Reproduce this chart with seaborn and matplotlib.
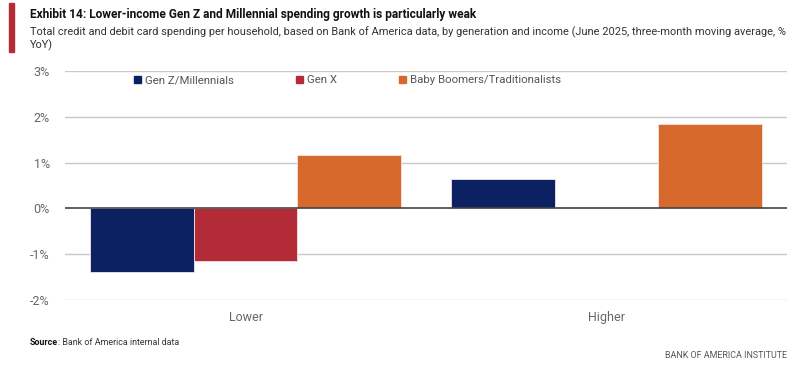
import matplotlib.pyplot as plt
import matplotlib.patches as mpatches
import seaborn as sns
import pandas as pd

income = ["Lower", "Higher"]
generations = ["Gen Z/Millennials", "Gen X", "Baby Boomers/Traditionalists"]
genz = [-1.39, 0.65]
genx = [-1.16, 0.02]
boomers = [1.16, 1.84]
yticks = [-2, -1, 0, 1, 2, 3]
colors = ["#0B2161", "#B42B38", "#D6692B"]

df = pd.DataFrame({
    "income": income * 3,
    "generation": [g for g in generations for _ in income],
    "value": genz + genx + boomers,
})

sns.set_style("white")
plt.rcParams["font.family"] = ["Roboto", "DejaVu Sans"]

fig = plt.figure(figsize=(8.08, 3.74), dpi=100)
ax = fig.add_axes([0.0804, 0.198, 0.894, 0.612])

sns.barplot(data=df, x="income", y="value", hue="generation", order=income,
            hue_order=generations, palette=colors, saturation=1, width=0.86,
            ax=ax, edgecolor="#F4E4E4", linewidth=0.6, legend=False,
            errorbar=None)

ax.set_ylim(-2, 3)
ax.set_xlim(-0.5, 1.5)
ax.set_yticks(yticks)
ax.set_yticklabels([f"{t}%" for t in yticks], color="#666666", fontsize=9)
ax.tick_params(axis="x", colors="#666666", labelsize=9, length=0, pad=8)
ax.tick_params(axis="y", length=0, pad=11)
ax.set_xlabel("")
ax.set_ylabel("")
for s in ax.spines.values():
    s.set_visible(False)
for t in yticks:
    if t != 0:
        ax.axhline(t, color="#C8C8C8", lw=1, zorder=0)
ax.axhline(0, color="#444444", lw=1.2, zorder=3)

handles = [mpatches.Patch(color=c, label=g) for c, g in zip(colors, generations)]
leg = ax.legend(handles=handles, loc="center left", bbox_to_anchor=(0.0956, 0.96),
                ncol=3, frameon=False, fontsize=8.2, handlelength=0.6,
                handleheight=0.6, handletextpad=0.4, columnspacing=5.4,
                borderpad=0, borderaxespad=0)
for txt in leg.get_texts():
    txt.set_color("#555555")

fig.patches.append(mpatches.Rectangle((0.0115, 0.861), 0.0058, 0.131,
                                      transform=fig.transFigure,
                                      color="#B42B38"))
fig.text(0.037, 0.962, "Exhibit 14: Lower-income Gen Z and Millennial spending growth is particularly weak",
         fontsize=8.6, fontweight="bold", color="#111111", va="center")
fig.text(0.037, 0.913, "Total credit and debit card spending per household, based on Bank of America data, by generation and income (June 2025, three-month moving average, %",
         fontsize=7.9, color="#333333", va="center")
fig.text(0.037, 0.880, "YoY)", fontsize=7.9, color="#333333", va="center")

src = fig.text(0.037, 0.083, "Source", fontsize=6.4, fontweight="bold",
               color="#111111", va="center")
fig.canvas.draw()
bb = src.get_window_extent().transformed(fig.transFigure.inverted())
fig.text(bb.x1, 0.083, ": Bank of America internal data", fontsize=6.4,
         color="#333333", va="center")
fig.text(0.974, 0.05, "BANK OF AMERICA INSTITUTE", fontsize=6.4, color="#555555",
         va="center", ha="right")

fig.savefig("out.png", dpi=100)
